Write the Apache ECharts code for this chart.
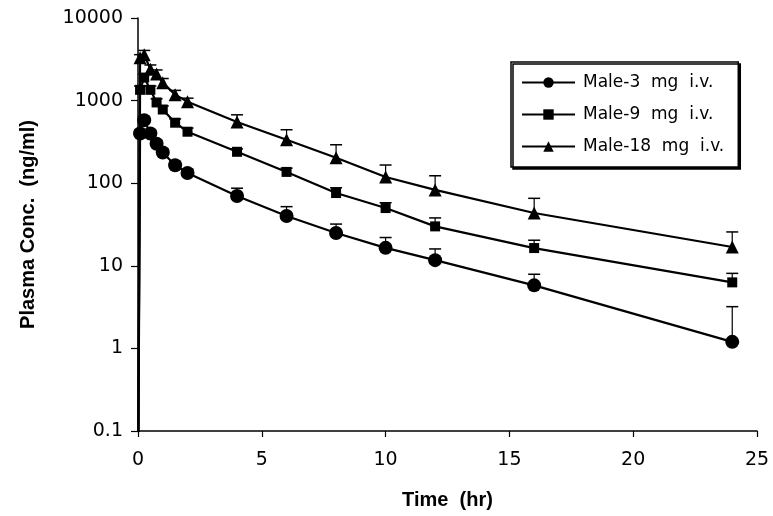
<!DOCTYPE html>
<html><head><meta charset="utf-8">
<script src="https://cdn.jsdelivr.net/npm/echarts@6/dist/echarts.min.js"></script>
<style>html,body{margin:0;padding:0;background:#fff}#c{width:773px;height:516px}</style>
</head><body><div id="c"></div>
<script>
// ---- data ----
const seriesNames = ['Male-3  mg  i.v.', 'Male-9  mg  i.v.', 'Male-18  mg  i.v.'];
const times = [0.083, 0.25, 0.5, 0.75, 1, 1.5, 2, 4, 6, 8, 10, 12, 16, 24];
const predoseTime = 0;
const predoseConc = 0.01;
const conc3  = [400, 580, 400, 300, 235, 165, 133, 70, 40, 25, 16.5, 11.7, 5.8, 1.2];
const sd3    = [40, 60, 40, 30, 25, 18, 15, 17, 12, 7, 5.5, 4.3, 2.1, 2.0];
const conc9  = [1350, 1900, 1350, 950, 780, 540, 420, 240, 137, 76, 50, 30, 16.4, 6.3];
const sd9    = [150, 200, 150, 100, 80, 60, 45, 20, 15, 12, 8, 8, 4, 1.8];
const conc18 = [3300, 3600, 2400, 2100, 1650, 1180, 970, 550, 335, 203, 119, 83, 43.6, 16.9];
const sd18   = [300, 450, 300, 250, 200, 150, 100, 123, 109, 89, 47, 40, 22, 8.8];
const xTicks = [0, 5, 10, 15, 20, 25];
const yMin = 0.1, yMax = 10000;

const concs = [conc3, conc9, conc18];
const sds = [sd3, sd9, sd18];
const symbols = ['circle', 'rect', 'triangle'];
const symbolSizes = [14, 10, 13];

function lineData(c) {
  const d = [{ value: [predoseTime, predoseConc], symbol: 'none' }];
  times.forEach((t, i) => d.push([t, c[i]]));
  return d;
}
function errData(c, s) { return times.map((t, i) => [t, c[i], s[i]]); }

const series = [];
concs.forEach((c, k) => {
  series.push({
    type: 'custom', name: 'err' + k, z: 1,
    encode: { x: 0, y: 1 },
    data: errData(c, sds[k]),
    renderItem: function (params, api) {
      const x = api.value(0), m = api.value(1), s = api.value(2);
      const p0 = api.coord([x, m]);
      const p1 = api.coord([x, m + s]);
      const hw = 6;
      return { type: 'group', children: [
        { type: 'line', shape: { x1: p0[0], y1: p0[1], x2: p1[0], y2: p1[1] }, style: { stroke: '#000', lineWidth: 1.2 } },
        { type: 'line', shape: { x1: p1[0] - hw, y1: p1[1], x2: p1[0] + hw, y2: p1[1] }, style: { stroke: '#000', lineWidth: 1.5 } }
      ]};
    }
  });
  series.push({
    type: 'line', name: seriesNames[k], z: 3,
    data: lineData(c),
    symbol: symbols[k], symbolSize: symbolSizes[k],
    showAllSymbol: true,
    lineStyle: { color: '#000', width: 2.2 },
    itemStyle: { color: '#000', borderWidth: 0 },
    emphasis: { disabled: true },
    clip: true,
    animation: false
  });
});

const chart = echarts.init(document.getElementById('c'), null, { renderer: 'canvas' });
chart.setOption({
  animation: false,
  backgroundColor: '#fff',
  grid: { left: 138, right: 16, top: 18, bottom: 85, containLabel: false, outerBoundsMode: 'none' },
  legend: {
    data: seriesNames,
    orient: 'vertical',
    left: 511, top: 62,
    padding: [12, 14, 12, 10],
    itemWidth: 53, itemHeight: 13, itemGap: 15,
    backgroundColor: '#fff',
    borderColor: '#000', borderWidth: 1.5,
    shadowColor: '#000', shadowBlur: 0, shadowOffsetX: 2, shadowOffsetY: 2,
    textStyle: { fontFamily: 'DejaVu Sans', fontSize: 17, color: '#000', padding: [0, 0, 0, 3] },
    selectedMode: false
  },
  xAxis: {
    type: 'value', min: xTicks[0], max: xTicks[xTicks.length - 1], interval: 5,
    name: 'Time  (hr)', nameLocation: 'middle', nameGap: 59,
    nameTextStyle: { fontFamily: 'Liberation Sans', fontWeight: 'bold', fontSize: 20, color: '#000' },
    axisLine: { lineStyle: { color: '#000', width: 1.5 } },
    axisTick: { show: true, inside: false, length: 6, lineStyle: { color: '#000', width: 1.2 } },
    axisLabel: { fontFamily: 'DejaVu Sans', fontSize: 19, color: '#000', margin: 20 },
    splitLine: { show: false }
  },
  yAxis: {
    type: 'log', logBase: 10, min: yMin, max: yMax,
    name: 'Plasma Conc.  (ng/ml)', nameLocation: 'middle', nameGap: 100, nameRotate: 90,
    nameTextStyle: { fontFamily: 'Liberation Sans', fontWeight: 'bold', fontSize: 20, color: '#000' },
    axisLine: { show: true, lineStyle: { color: '#000', width: 1.5 } },
    axisTick: { show: true, inside: false, length: 7, lineStyle: { color: '#000', width: 1.2 } },
    minorTick: { show: false },
    axisLabel: { fontFamily: 'DejaVu Sans', fontSize: 19, color: '#000', margin: 15,
      formatter: v => String(v) },
    splitLine: { show: false }
  },
  series: series
});
</script></body></html>
